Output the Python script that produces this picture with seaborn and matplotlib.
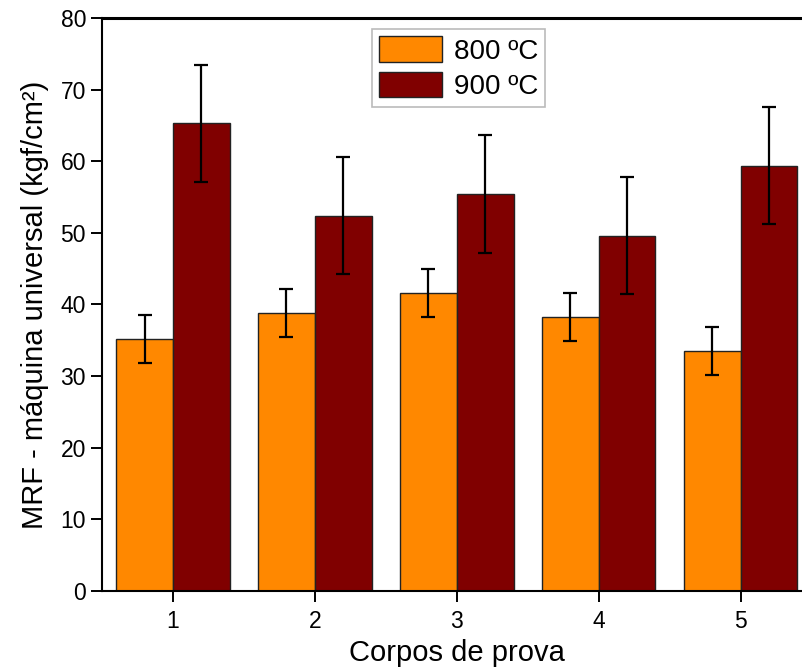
import matplotlib
matplotlib.use("Agg")
import matplotlib.pyplot as plt
import seaborn as sns
import pandas as pd

# dados
corpos = ["1", "2", "3", "4", "5"]
mrf_800 = [35.2, 38.8, 41.6, 38.3, 33.5]
err_800 = [3.35, 3.35, 3.35, 3.35, 3.35]
mrf_900 = [65.3, 52.4, 55.4, 49.6, 59.4]
err_900 = [8.2, 8.2, 8.2, 8.2, 8.2]
temperaturas = ["800 ºC", "900 ºC"]
cores = ["#FF8800", "#800000"]

sns.set_style("ticks")
plt.rcParams["font.family"] = ["Liberation Sans", "DejaVu Sans"]
plt.rcParams["text.color"] = "black"
plt.rcParams["axes.labelcolor"] = "black"
plt.rcParams["xtick.color"] = "black"
plt.rcParams["ytick.color"] = "black"

df = pd.DataFrame({
    "corpo": corpos * 2,
    "mrf": mrf_800 + mrf_900,
    "temp": [temperaturas[0]] * len(corpos) + [temperaturas[1]] * len(corpos),
})

fig = plt.figure(figsize=(8.03, 6.69), dpi=100)
ax = fig.add_axes([0.127, 0.1166, 0.8836, 0.8565])

sns.barplot(data=df, x="corpo", y="mrf", hue="temp", palette=cores,
            errorbar=None, edgecolor="#222222", linewidth=1.0,
            saturation=1, ax=ax)

# barras de erro nos centros das barras
for cont, errs in zip(ax.containers, [err_800, err_900]):
    xs = [p.get_x() + p.get_width() / 2 for p in cont]
    ys = [p.get_height() for p in cont]
    ax.errorbar(xs, ys, yerr=errs, fmt="none", ecolor="black",
                elinewidth=1.6, capsize=5, capthick=1.6, zorder=5)

ax.set_xlim(-0.5, 4.5)
ax.set_ylim(0, 80)
ax.set_yticks(range(0, 81, 10))
ax.set_xlabel("Corpos de prova", fontsize=21)
ax.set_ylabel("MRF - máquina universal (kgf/cm²)", fontsize=21, labelpad=8)
ax.tick_params(axis="both", labelsize=16.5, length=8, width=1.4,
               direction="out", colors="black")
ax.tick_params(axis="x", pad=6)

for s in ["left", "bottom", "top", "right"]:
    ax.spines[s].set_linewidth(1.5)
    ax.spines[s].set_color("black")
ax.spines["top"].set_linewidth(2.2)

leg = ax.legend(loc="upper left", bbox_to_anchor=(0.38, 0.98), fontsize=20,
                frameon=True, fancybox=False, edgecolor="#aaaaaa",
                handlelength=2.3, handleheight=1.05, labelspacing=0.25,
                handletextpad=0.4, borderpad=0.25, borderaxespad=0)
leg.get_frame().set_linewidth(1.2)
for t in leg.get_texts():
    t.set_color("black")

fig.savefig("out.png", dpi=100)
